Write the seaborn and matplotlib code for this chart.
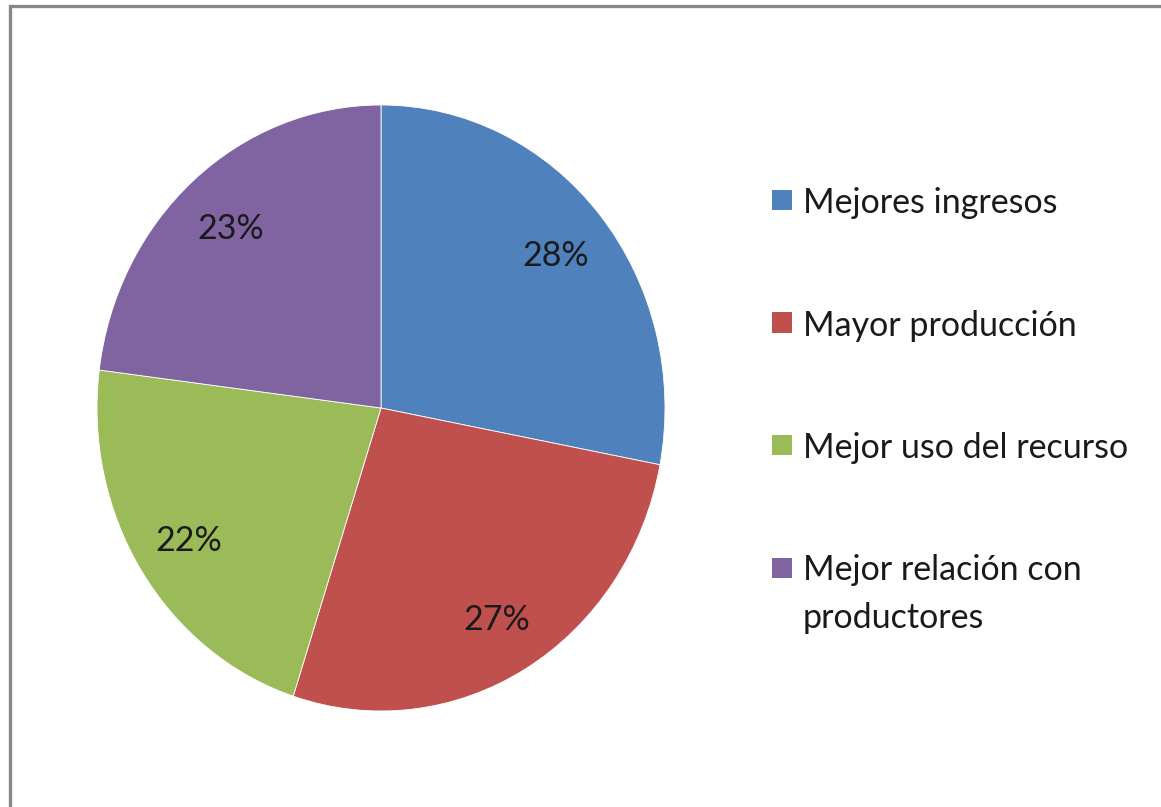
import matplotlib
matplotlib.use("Agg")
import matplotlib.pyplot as plt
from matplotlib.patches import Rectangle
import seaborn as sns

categories = [
    "Mejores ingresos",
    "Mayor producción",
    "Mejor uso del recurso",
    "Mejor relación con\nproductores",
]
shares = [28, 27, 22, 23]
slice_colors = ["#4F81BD", "#C0504D", "#9BBB59", "#8064A2"]

sns.set_theme(style="white")
plt.rcParams["font.family"] = ["Lato", "DejaVu Sans"]

W, H = 1161, 807
fig = plt.figure(figsize=(W / 100, H / 100), dpi=100)
fig.patch.set_facecolor("white")

palette = sns.color_palette(slice_colors)
text_color = "#1a1a1a"

# pie area in pixel coordinates (slightly taller than wide)
left, right, top, bottom = 97, 665, 105, 711
ax = fig.add_axes([left / W, 1 - bottom / H, (right - left) / W, (bottom - top) / H])
wedges, texts, autotexts = ax.pie(
    shares,
    colors=palette,
    startangle=90,
    counterclock=False,
    autopct=lambda p: f"{p:.0f}%",
    pctdistance=0.8,
    wedgeprops=dict(linewidth=0.6, edgecolor="white"),
    textprops=dict(fontsize=24.5, color=text_color),
)
for t in autotexts:
    t.set_verticalalignment("center_baseline")
ax.set_aspect("auto")
ax.set_xlim(-1, 1)
ax.set_ylim(-1, 1)
ax.axis("off")

# legend: colour square + label, square aligned with the first text line
px = lambda x: x / W
py = lambda y: 1 - y / H
legend_x, text_x = 772, 803
first_baseline, step, line_gap = 213, 122.5, 47
for i, (label, color) in enumerate(zip(categories, palette)):
    base = first_baseline + i * step
    fig.add_artist(Rectangle((px(legend_x), py(base - 3)), 20 / W, 20 / H,
                             transform=fig.transFigure, facecolor=color,
                             edgecolor="none"))
    for k, line in enumerate(label.split("\n")):
        fig.text(px(text_x), py(base + k * line_gap), line, fontsize=24.5,
                 color=text_color, ha="left", va="baseline")

# outer gray frame
fig.add_artist(Rectangle((10 / W, -0.05), 1.2, 1 - 5.5 / H + 0.05,
                         transform=fig.transFigure, fill=False,
                         edgecolor="#888888", linewidth=2.4))

fig.savefig("out.png", dpi=100, facecolor="white")
